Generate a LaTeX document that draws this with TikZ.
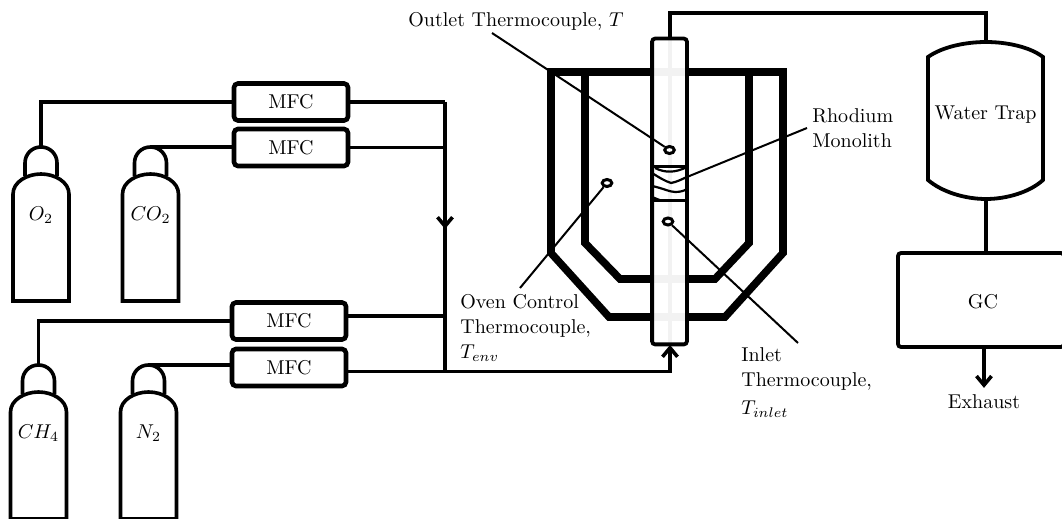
\documentclass[tikz,border=0pt]{standalone}
\usepackage{amsmath}
\usetikzlibrary{positioning, shapes.geometric, arrows.meta}

\tikzset{
    pipe/.style={line width=1.9pt},
    mfcbox/.style={draw, line width=2.3pt, rounded corners=2pt, minimum width=57pt, minimum height=18.5pt, inner sep=0pt, fill=white},
    ovenwall/.style={line width=3.8pt, line join=miter},
    leader/.style={line width=1pt},
    tcouple/.style={draw, ellipse, line width=1.5pt, minimum width=4.8pt, minimum height=3.5pt, inner sep=0pt, fill=white},
    tag/.style={align=left, inner sep=0pt}
}

\begin{document}
\begin{tikzpicture}[x=0.5pt, y=-0.5pt, >={Straight Barb[length=4.5pt, width=7.5pt, line width=1.8pt]}]
    % 1. Canvas
    \clip (0, 0) rectangle (1062, 519);

    % 2. Gas bottles
    \foreach \name/\cx/\ty/\gas in {otwo/41/147/{O_2}, cotwo/150.5/147/{CO_2}, chfour/38.5/365/{CH_4}, ntwo/148.5/365/{N_2}} {
        \draw[line width=1.8pt] (\cx-16, \ty+29) -- (\cx-16, \ty+16) .. controls (\cx-16, \ty+7) and (\cx-9, \ty) .. (\cx, \ty)
            .. controls (\cx+9, \ty) and (\cx+16, \ty+7) .. (\cx+16, \ty+16) -- (\cx+16, \ty+29);
        \draw[line width=1.8pt] (\cx-28, \ty+154) -- (\cx-28, \ty+47) .. controls (\cx-28, \ty+35) and (\cx-14, \ty+27) .. (\cx, \ty+27)
            .. controls (\cx+14, \ty+27) and (\cx+28, \ty+35) .. (\cx+28, \ty+47) -- (\cx+28, \ty+154) -- cycle;
        \coordinate (\name) at (\cx, \ty);
        \node (\name gas) at (\cx, \ty+68) {$\gas$};
    }

    % 3. Mass flow controllers
    \node[mfcbox] (mfcA) at (291, 102) {MFC};
    \node[mfcbox] (mfcB) at (291, 147.5) {MFC};
    \node[mfcbox] (mfcC) at (289, 321) {MFC};
    \node[mfcbox] (mfcD) at (289, 367.5) {MFC};

    % 4. Bottles to controllers
    \draw[pipe] (otwo) |- (mfcA.west);
    \draw[pipe] (cotwo) -- (cotwo -| mfcB.west);
    \draw[pipe] (chfour) |- (mfcC.west);
    \draw[pipe] (ntwo) -- (ntwo -| mfcD.west);

    % 5. Mixing line
    \coordinate (mixtop) at (445, 102);
    \coordinate (mixbot) at (445, 371.5);
    \draw[pipe] (mfcA.east) -- (mixtop);
    \draw[pipe] (mfcB.east) -- (mixtop |- mfcB.east);
    \draw[pipe] (mfcC.east |- 0, 316) -- (mixtop |- 0, 316);
    \draw[pipe] (mfcD.east |- mixbot) -- (mixbot);
    \draw[pipe, ->] (mixtop) -- (445, 229);
    \draw[pipe] (445, 222) -- (mixbot);

    % 6. Oven walls
    \draw[ovenwall] (551, 72) -- (551, 253) -- (609, 317) -- (725, 317) -- (783, 253) -- (783, 72) -- cycle;
    \draw[ovenwall] (585, 72) -- (585, 243) -- (620, 279) -- (715, 279) -- (749, 243) -- (749, 72);

    % 7. Reactor tube, the centre line shows faintly through it
    \coordinate (tubetop) at (670, 39);
    \coordinate (tubebot) at (670, 345);
    \draw[pipe] (tubetop) -- (tubebot);
    \node[draw=none, fill=white, fill opacity=0.95, minimum width=17pt, minimum height=152.5pt, inner sep=0pt] (tubefill) at (669.5, 191.5) {};
    \draw[line width=1.9pt, rounded corners=1.5pt] (tubefill.north west) rectangle (tubefill.south east);

    % 8. Monolith
    \begin{scope}
        \clip (652, 165) rectangle (687, 202);
        \draw[line width=1.6pt] (652, 166.5) -- (687, 166.5);
        \draw[line width=1.6pt] (652, 201) -- (687, 201);
        \draw[line width=1.1pt] (655, 168) .. controls (665, 173) and (675, 173) .. (687, 167);
        \draw[line width=1.1pt] (652, 173) .. controls (660, 178) and (665, 181) .. (671, 183) .. controls (677, 182) and (682, 179) .. (687, 177);
        \draw[line width=1.1pt] (652, 186) .. controls (662, 188) and (670, 192) .. (675, 192) .. controls (680, 192) and (684, 191) .. (687, 189);
        \draw[line width=1.1pt] (652, 197) -- (662, 201);
    \end{scope}

    % 9. Thermocouples and their labels
    \node[tcouple] (tcout) at (669.5, 150) {};
    \node[tcouple] (tcenv) at (607, 183) {};
    \node[tcouple] (tcin) at (668, 221.5) {};
    \coordinate (mono) at (687, 177);

    \node[tag, anchor=west] (outlet) at (408, 21) {Outlet Thermocouple, $T$};
    \node[tag, anchor=west] (rhodium) at (812, 128) {Rhodium\\[0.5pt]Monolith};
    \node[tag, anchor=north west] (oven) at (460, 294) {Oven Control\\[0.5pt]Thermocouple,\\[0.5pt]$T_{env}$};
    \node[tag, anchor=north west] (inlet) at (741, 347) {Inlet\\[0.5pt]Thermocouple,\\[2pt]$T_{inlet}$};

    \coordinate (outletend) at (492, 33);
    \coordinate (ovenend) at (520, 288);
    \coordinate (inletend) at (798, 343);
    \draw[leader] (tcout) -- (outletend);
    \draw[leader] (mono) -- ([xshift=-2.5pt]rhodium.west);
    \draw[leader] (tcenv) -- (ovenend);
    \draw[leader] (tcin) -- (inletend);

    % 10. Water trap and GC
    \draw[line width=1.9pt] (928, 57) .. controls (942, 47) and (965, 42) .. (986, 42)
        .. controls (1007, 42) and (1030, 47) .. (1043, 57) -- (1043, 180)
        .. controls (1030, 192) and (1007, 199) .. (986, 199)
        .. controls (965, 199) and (942, 192) .. (928, 180) -- cycle;
    \coordinate (traptop) at (986, 42);
    \coordinate (trapbot) at (986, 199);
    \node (trap) at (985.5, 115) {Water Trap};
    \node[draw, line width=1.9pt, rounded corners=1.5pt, minimum width=83pt, minimum height=47pt, inner sep=0pt] (gc) at (981, 300) {};
    \node (gclabel) at (983, 302) {GC};
    \node (exhaust) at (984, 402) {Exhaust};

    % 11. Flow through the rest of the rig
    \coordinate (corner) at (670, 13);
    \draw[pipe] (tubefill.north -| corner) -- (corner) -| (traptop);
    \draw[pipe] (trapbot) -- (trapbot |- gc.north);
    \draw[pipe, ->] (gc.south -| exhaust) -- (exhaust.north);
    \draw[pipe, ->] (mixbot) -| (tubebot);
\end{tikzpicture}
\end{document}
